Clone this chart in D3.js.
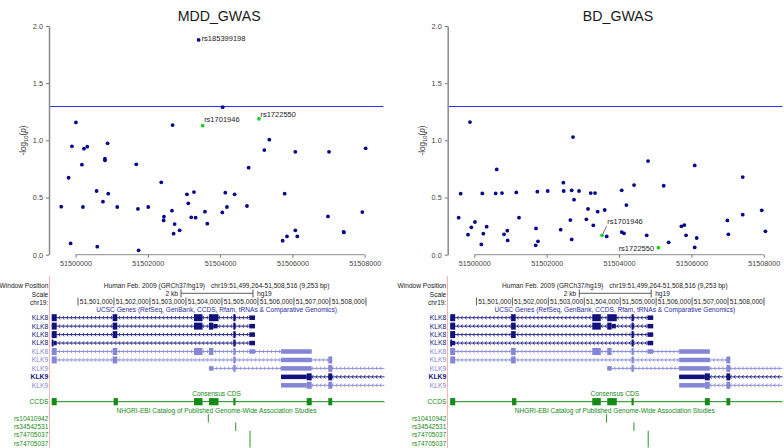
<!DOCTYPE html>
<html><head><meta charset="utf-8">
<script src="https://cdn.jsdelivr.net/npm/d3@7"></script>
<style>body{margin:0;background:#fff}svg{display:block}text{font-family:"Liberation Sans",Arial,sans-serif}</style>
</head><body>
<svg id="c" width="784" height="448"></svg>
<script>
// ---------------- DATA ----------------
const titles = ["MDD_GWAS", "BD_GWAS"];
const xTicks = [51500000, 51502000, 51504000, 51506000, 51508000];
const yTicks = [0, 0.5, 1, 1.5, 2];
const threshold = 1.301; // -log10(0.05)
const windowStart = 51499264, windowEnd = 51508516;

const mddPos = [51499603,51499806,51499862,51499899,51500175,51500203,51500231,51500323,51500581,51500600,51500757,51500812,51500812,51500886,51500904,51501153,51501679,51501725,51501744,51502011,51502371,51502436,51502445,51502667,51502713,51502741,51502879,51503082,51503119,51503202,51503276,51503322,51503580,51503645,51504060,51504143,51504189,51504401,51504743,51504789,51505223,51505361,51505730,51505785,51505850,51506081,51506081,51506136,51506985,51507013,51507418,51507425,51507935,51508028,51500009,51502685,51503405,51504069];
const mddVal = [0.42,0.673,0.099,0.948,0.787,0.417,0.927,0.945,0.557,0.07,0.464,0.84,0.825,0.974,0.534,0.417,0.79,0.40,0.038,0.417,0.633,0.30,0.332,0.385,0.184,0.268,0.213,0.528,0.449,0.327,0.548,0.324,0.376,0.271,0.37,0.542,0.417,0.528,0.426,0.761,0.915,1.006,0.122,0.534,0.16,0.90,0.213,0.16,0.335,0.90,0.20,0.195,0.373,0.93,1.157,1.134,1.878,1.29];

const bdPos = [51499567,51499622,51499825,51499917,51500018,51500194,51500221,51500249,51500341,51500590,51500618,51500765,51500820,51500912,51500922,51501161,51501235,51501696,51501705,51501742,51501760,51502028,51502387,51502461,51502470,51502654,51502691,51502691,51502728,51502756,51502894,51503097,51503143,51503217,51503290,51503336,51503410,51503604,51503659,51504074,51504074,51504138,51504203,51504415,51504765,51504802,51505235,51505373,51505724,51505806,51505853,51506092,51506092,51506147,51506995,51507023,51507419,51507419,51507945,51508046,51499880];
const bdVal = [0.324,0.534,0.175,0.239,0.286,0.09,0.536,0.184,0.245,0.536,0.746,0.539,0.178,0.21,0.125,0.545,0.324,0.082,0.23,0.551,0.117,0.557,0.219,0.63,0.557,0.303,0.563,0.134,1.029,0.481,0.557,0.309,0.40,0.539,0.257,0.539,0.376,0.391,0.16,0.563,0.198,0.187,0.434,0.609,0.169,0.819,0.603,0.108,0.248,0.259,0.169,0.781,0.064,0.146,0.30,0.178,0.679,0.35,0.388,0.204,1.16];

// highlighted (green) SNPs
const hiNames = ["rs1701946", "rs1722550"];
const hiPosMdd = [51503516, 51505075];
const hiValMdd = [1.128, 1.189];
const hiPosBd = [51503530, 51505088];
const hiValBd = [0.169, 0.061];
// labelled lead SNP (MDD)
const leadName = "rs185399198", leadPos = 51503405, leadVal = 1.878;

// genome browser tracks
const rulerTicks = [51500000,51501000,51502000,51503000,51504000,51505000,51506000,51507000,51508000];
const rulerLabels = ["","51,501,000","51,502,000","51,503,000","51,504,000","51,505,000","51,506,000","51,507,000","51,508,000"];
const geneNames = ["KLK8","KLK8","KLK8","KLK8","KLK8","KLK9","KLK9","KLK9","KLK9"];
const geneDark = [1,1,1,1,0,0,0,1,0];
const geneStart = [51499270,51499270,51499270,51499270,51499270,51499270,51503640,51505641,51505641];
const geneEnd = [51504918,51504918,51504918,51504918,51506494,51507063,51508530,51508530,51508530];
const geneExons = [
 [[51499270,51499408,"c"],[51500964,51501092,"c"],[51503223,51503460,"c"],[51503640,51503904,"c"],[51504315,51504377,"c"],[51504760,51504918,"u"]],
 [[51499270,51499408,"c"],[51500964,51501092,"c"],[51503223,51503460,"c"],[51503640,51503760,"c"],[51503760,51503880,"u"],[51504315,51504377,"c"],[51504760,51504918,"u"]],
 [[51499270,51499408,"c"],[51500964,51501092,"c"],[51504315,51504377,"c"],[51504760,51504918,"u"]],
 [[51499270,51499320,"c"],[51499320,51499408,"u"],[51504315,51504377,"c"],[51504760,51504918,"u"]],
 [[51499270,51499408,"c"],[51500964,51501092,"c"],[51503223,51503460,"c"],[51503640,51503760,"c"],[51504315,51504377,"c"],[51504760,51504918,"u"],[51505641,51506494,"u"]],
 [[51499270,51499408,"c"],[51500964,51501092,"c"],[51504315,51504377,"c"],[51505641,51506494,"u"],[51506955,51507063,"c"]],
 [[51503640,51503760,"u"],[51504315,51504377,"c"],[51505641,51506494,"u"],[51506955,51507063,"c"]],
 [[51505641,51506355,"u"],[51506355,51506494,"c"],[51506955,51507063,"c"]],
 [[51505641,51506355,"u"],[51506355,51506494,"c"],[51506955,51507063,"c"]]
];
const ccdsStart = 51499270, ccdsEnd = 51508530;
const ccdsExons = [[51499270,51499408],[51500990,51501110],[51503223,51503460],[51503640,51503904],[51504315,51504377],[51506355,51506494],[51506955,51507063]];
const gwasNames = ["rs10410942","rs34542531","rs74705037","rs74705037"];
const gwasPos = [51503621,51504382,51504779,51504779];

// ---------------- LAYOUT ----------------
const svg = d3.select("#c");
const DARK = "#12127c", LIGHT = "#8686d6", GREEN = "#168a16", PTBLUE = "#08088c", PTGREEN = "#22d022";
const panels = [
  {plot:[49, 383.3], track:[51.5, 384.5], red:49.5, pos:mddPos, val:mddVal, hiPos:hiPosMdd, hiVal:hiValMdd,
   labels:[{n:leadName,p:leadPos,v:leadVal,dx:3,dy:1,a:"start"},{n:hiNames[0],p:hiPosMdd[0],v:hiValMdd[0],dx:1.5,dy:-3.5,a:"start"},{n:hiNames[1],p:hiPosMdd[1],v:hiValMdd[1],dx:1.5,dy:-1.5,a:"start"}]},
  {plot:[447.7, 782.4], track:[450, 782.5], red:447.5, pos:bdPos, val:bdVal, hiPos:hiPosBd, hiVal:hiValBd,
   labels:[{n:hiNames[0],p:hiPosBd[0],v:hiValBd[0],dx:5.3,dy:-11.3,a:"start",leader:true},{n:hiNames[1],p:hiPosBd[1],v:hiValBd[1],dx:-4.3,dy:3,a:"end"}]}
];
const ys = d3.scaleLinear().domain([0,2]).range([254.7, 26]);

panels.forEach((P, pi) => {
  const g = svg.append("g");
  const xs = d3.scaleLinear().domain([windowStart, windowEnd]).range(P.plot);
  // title
  g.append("text").attr("x", (P.plot[0]+P.plot[1])/2 + 3).attr("y", 21).attr("text-anchor","middle")
    .attr("font-size", 14.2).attr("fill", "#1a1a1a").text(titles[pi]);
  // threshold
  const ty = Math.round(ys(threshold)) + 0.5;
  g.append("line").attr("x1", P.plot[0]).attr("x2", P.plot[1]).attr("y1", ty).attr("y2", ty)
    .attr("stroke", "#3030ff").attr("stroke-width", 1);
  // y axis
  const ya = g.append("g").attr("transform", `translate(${P.plot[0]},0)`)
    .call(d3.axisLeft(ys).tickValues(yTicks).tickFormat(d3.format(".1f")).tickSize(3).tickSizeOuter(0).tickPadding(3));
  ya.select(".domain").attr("stroke", "#8a8a8a").attr("stroke-width", 1.5);
  ya.selectAll(".tick line").attr("stroke", "#777");
  ya.selectAll(".tick text").attr("font-size", 7.3).attr("fill", "#444").attr("font-family", "Liberation Sans, Arial");
  // x axis
  const xa = g.append("g").attr("transform", `translate(0,${ys(0)})`)
    .call(d3.axisBottom(xs).tickValues(xTicks).tickFormat(d3.format("d")).tickSize(3).tickPadding(3));
  xa.select(".domain").remove();
  xa.append("line").attr("x1", xs(xTicks[0])).attr("x2", xs(xTicks[xTicks.length-1])).attr("stroke", "#8a8a8a").attr("stroke-width", 1);
  xa.selectAll(".tick line").attr("stroke", "#777");
  xa.selectAll(".tick text").attr("font-size", 7.2).attr("fill", "#444").attr("font-family", "Liberation Sans, Arial");
  // y label
  const yl = g.append("text").attr("transform", `translate(${P.plot[0]-23},140.5) rotate(-90)`)
    .attr("text-anchor", "middle").attr("font-size", 8.2).attr("fill", "#333");
  yl.append("tspan").text("-log");
  yl.append("tspan").attr("font-size", 5.8).attr("dy", 2).text("10");
  yl.append("tspan").attr("dy", -2).text("(");
  yl.append("tspan").attr("font-style", "italic").text("p");
  yl.append("tspan").text(")");
  // points
  g.selectAll("circle.pt").data(P.pos.map((p, i) => [p, P.val[i]])).enter().append("circle")
    .attr("cx", d => xs(d[0])).attr("cy", d => ys(d[1])).attr("r", 1.9).attr("fill", PTBLUE);
  g.selectAll("circle.hi").data(P.hiPos.map((p, i) => [p, P.hiVal[i]])).enter().append("circle")
    .attr("cx", d => xs(d[0])).attr("cy", d => ys(d[1])).attr("r", 1.9).attr("fill", PTGREEN);
  // labels
  P.labels.forEach(L => {
    const px = xs(L.p), py = ys(L.v);
    if (L.leader) g.append("line").attr("x1", px+0.8).attr("y1", py-1.5).attr("x2", px+L.dx-0.8).attr("y2", py+L.dy+2)
      .attr("stroke", "#333").attr("stroke-width", 0.7);
    g.append("text").attr("x", px + L.dx).attr("y", py + L.dy).attr("text-anchor", L.a)
      .attr("font-size", 7.5).attr("fill", "#222").text(L.n);
  });

  // ---------------- genome browser panel ----------------
  const ts = d3.scaleLinear().domain([windowStart, windowEnd]).range(P.track).clamp(true);
  const tc = (P.track[0] + P.track[1]) / 2;
  const lx = P.red + 0.3;
  const tg = svg.append("g").attr("font-size", 6.6);
  tg.append("line").attr("x1", P.red).attr("x2", P.red).attr("y1", 276).attr("y2", 448).attr("stroke", "#ffb0b0").attr("stroke-width", 1);
  const side = (y, t, col, fs) => tg.append("text").attr("x", lx - 1.5).attr("y", y).attr("text-anchor", "end")
      .attr("fill", col || "#222").attr("font-size", fs || 6.6).text(t);
  side(287.5, "Window Position");
  side(296.5, "Scale");
  side(304.5, "chr19:");
  tg.append("text").attr("x", tc - 13).attr("y", 287.5).attr("text-anchor", "end").attr("fill", "#222").text("Human Feb. 2009 (GRCh37/hg19)");
  tg.append("text").attr("x", tc - 7).attr("y", 287.5).attr("text-anchor", "start").attr("fill", "#222").text("chr19:51,499,264-51,508,516 (9,253 bp)");
  // scale bar (2 kb)
  const bw = ts(windowStart + 2000) - ts(windowStart);
  const b0 = tc - 1 - bw / 2, b1 = tc - 1 + bw / 2;
  tg.append("line").attr("x1", b0).attr("x2", b1).attr("y1", 293.3).attr("y2", 293.3).attr("stroke", "#333").attr("stroke-width", 0.8);
  [b0, b1].forEach(x => tg.append("line").attr("x1", x).attr("x2", x).attr("y1", 289.5).attr("y2", 297.5).attr("stroke", "#333").attr("stroke-width", 0.8));
  tg.append("text").attr("x", b0 - 3).attr("y", 296).attr("text-anchor", "end").attr("fill", "#222").text("2 kb");
  tg.append("text").attr("x", b1 + 4).attr("y", 296).attr("fill", "#222").text("hg19");
  // ruler
  rulerTicks.forEach((t, i) => {
    const x = ts(t);
    tg.append("line").attr("x1", x).attr("x2", x).attr("y1", 297.5).attr("y2", 305.5).attr("stroke", "#333").attr("stroke-width", 0.8);
    if (rulerLabels[i]) tg.append("text").attr("x", x - 1.2).attr("y", 304.3).attr("text-anchor", "end").attr("fill", "#222").text(rulerLabels[i]);
  });
  tg.append("text").attr("x", tc - 1.5).attr("y", 312).attr("text-anchor", "middle").attr("fill", "#2b2b9c")
    .text("UCSC Genes (RefSeq, GenBank, CCDS, Rfam, tRNAs & Comparative Genomics)");
  // transcripts
  geneNames.forEach((nm, i) => {
    const y = 317.7 + 8.45 * i;
    const col = geneDark[i] ? DARK : LIGHT;
    side(y + 2.4, nm, col, 6.8).attr("font-weight", geneDark[i] && nm === "KLK9" ? "bold" : null);
    const x0 = ts(geneStart[i]), x1 = ts(geneEnd[i]);
    tg.append("line").attr("x1", x0).attr("x2", x1).attr("y1", y).attr("y2", y).attr("stroke", col).attr("stroke-width", 0.9);
    let d = "";
    for (let x = x0 + 3; x < x1 - 2; x += 4) d += `M${x+1.3},${y-1.8}L${x},${y}L${x+1.3},${y+1.8}`;
    tg.append("path").attr("d", d).attr("fill", "none").attr("stroke", col).attr("stroke-width", 0.8);
    geneExons[i].forEach(e => {
      const h = e[2] === "c" ? 7 : 4.5;
      const xa0 = ts(e[0]), xa1 = ts(e[1]);
      tg.append("rect").attr("x", xa0).attr("y", y - h / 2).attr("width", Math.max(1.6, xa1 - xa0)).attr("height", h).attr("fill", col);
    });
  });
  // CCDS
  tg.append("text").attr("x", tc - 1.5).attr("y", 396.3).attr("text-anchor", "middle").attr("fill", GREEN).text("Consensus CDS");
  side(404, "CCDS", GREEN);
  const cy = 401.7;
  tg.append("line").attr("x1", ts(ccdsStart)).attr("x2", ts(ccdsEnd)).attr("y1", cy).attr("y2", cy).attr("stroke", GREEN).attr("stroke-width", 1);
  ccdsExons.forEach(e => tg.append("rect").attr("x", ts(e[0])).attr("y", cy - 3.6).attr("width", Math.max(1.8, ts(e[1]) - ts(e[0]))).attr("height", 7.2).attr("fill", GREEN));
  // GWAS catalog
  tg.append("text").attr("x", tc - 1.5).attr("y", 413).attr("text-anchor", "middle").attr("fill", GREEN).text("NHGRI-EBI Catalog of Published Genome-Wide Association Studies");
  gwasNames.forEach((nm, i) => {
    const y = 418.3 + 8.33 * i;
    side(y + 2.3, nm, GREEN, 6.5);
    const x = ts(gwasPos[i]);
    tg.append("line").attr("x1", x).attr("x2", x).attr("y1", y - 4.2).attr("y2", y + 4.2).attr("stroke", GREEN).attr("stroke-width", 0.9);
  });
});
</script>
</body></html>
